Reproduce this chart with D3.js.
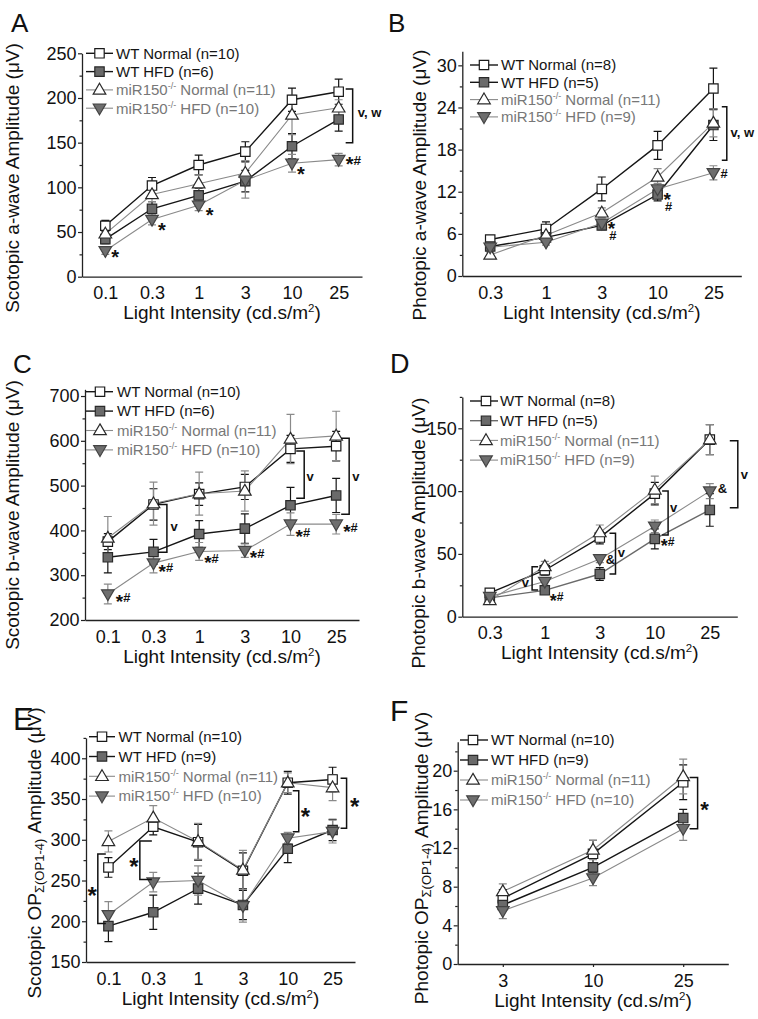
<!DOCTYPE html>
<html><head><meta charset="utf-8">
<script src="https://cdn.jsdelivr.net/npm/d3@7"></script>
<style>
body{margin:0;background:#fff}
svg{display:block}
text{font-family:Arial,"Liberation Sans",sans-serif}
</style>
</head><body>
<svg id="c" width="758" height="1019"></svg>
<script>
// ---------------- DATA ----------------
const catsA = ["0.1","0.3","1","3","10","25"];
const catsB = ["0.3","1","3","10","25"];
const catsC = ["0.1","0.3","1","3","10","25"];
const catsD = ["0.3","1","3","10","25"];
const catsE = ["0.1","0.3","1","3","10","25"];
const catsF = ["3","10","25"];

const ticksA = [0,50,100,150,200,250],  minorA = [25,75,125,175,225];
const ticksB = [0,6,12,18,24,30],       minorB = [3,9,15,21,27];
const ticksC = [200,300,400,500,600,700], minorC = [250,350,450,550,650];
const ticksD = [0,50,100,150],          minorD = [25,75,125,175];
const ticksE = [150,200,250,300,350,400], minorE = [175,225,275,325,375,425];
const ticksF = [0,4,8,12,16,20],        minorF = [2,6,10,14,18,22];

// Panel A: scotopic a-wave
const aWtN = [57,102,125,140,198,207], aWtNErr = [6,9,11,11,13,14];
const aWtH = [42,76,91,107,146,176],   aWtHErr = [5,8,8,12,14,13];
const aMiN = [48,92,104,116,181,189],  aMiNErr = [5,8,10,14,22,9];
const aMiH = [29,64,80,108,127,131],   aMiHErr = [4,6,6,20,10,7];
// Panel B: photopic a-wave
const bWtN = [5.2,6.7,12.4,18.6,26.7], bWtNErr = [0.4,1.0,1.7,2.0,2.9];
const bWtH = [4.2,5.5,7.2,11.6,21.5],  bWtHErr = [0.5,0.6,0.6,0.9,2.2];
const bMiN = [3.0,5.8,9.0,14.1,21.8],  bMiNErr = [0.4,0.5,0.7,1.2,2.0];
const bMiH = [4.1,4.8,7.5,12.4,14.7],  bMiHErr = [0.4,0.4,0.6,0.8,1.0];
// Panel C: scotopic b-wave
const cWtN = [375,458,481,497,582,588], cWtNErr = [18,35,25,28,30,33];
const cWtH = [340,352,392,404,456,478], cWtHErr = [35,28,30,33,40,38];
const cMiN = [383,460,482,488,604,611], cMiNErr = [48,48,48,45,55,55];
const cMiH = [258,327,353,355,414,414], cMiHErr = [22,22,20,15,25,22];
// Panel D: photopic b-wave
const dWtN = [19,37,63,98,141],  dWtNErr = [2,4,5,9,12];
const dWtH = [15,21,34,62,85],   dWtHErr = [2,3,5,8,13];
const dMiN = [13,40,67,101,141], dMiNErr = [2,4,6,11,12];
const dMiH = [16,28,46,72,100],  dMiHErr = [2,3,3,5,6];
// Panel E: scotopic OP
const eWtN = [266,316,297,262,370,374], eWtNErr = [12,10,22,22,14,15];
const eWtH = [194,211,240,220,289,312], eWtHErr = [19,21,19,18,17,13];
const eMiN = [298,327,298,263,370,364], eMiNErr = [13,15,22,24,12,16];
const eMiH = [208,248,250,219,302,310], eMiHErr = [16,12,18,20,7,14];
// Panel F: photopic OP
const fWtN = [6.8,11.4,18.8], fWtNErr = [0.9,1.4,1.8];
const fWtH = [6.1,10.0,15.1], fWtHErr = [0.5,0.5,0.9];
const fMiN = [7.5,11.8,19.4], fMiNErr = [0.8,1.0,1.8];
const fMiH = [5.5,8.9,14.0],  fMiHErr = [0.8,0.8,1.2];

const nA = [10,6,11,10], nB = [8,5,11,9], nC = [10,6,11,10];
const nD = [8,5,11,9],   nE = [10,9,11,10], nF = [10,9,11,10];

// significance annotations (category, value in data units, label)
const marksA = [
  {cat:"0.1",val:26.5,text:"*",dx:6},{cat:"0.3",val:56.8,text:"*",dx:6},
  {cat:"1",val:73.9,text:"*",dx:7},{cat:"10",val:119.4,text:"*",dx:5},
  {cat:"25",val:130.6,text:"*#",dx:7}];
const bracketsA = [{cat:"25",v1:210,v2:150,dx:14,tick:-7,label:"v, w",ldx:19,lval:183}];
const marksB = [
  {cat:"3",val:7.4,text:"*",below:"#",dx:6},
  {cat:"10",val:11.5,text:"*",below:"#",dx:6},
  {cat:"25",val:14.6,text:"#",dx:7}];
const bracketsB = [{cat:"25",v1:24.1,v2:16.5,dx:13.4,tick:-5,label:"v, w",ldx:17,lval:20.3}];
const marksC = [
  {cat:"0.1",val:250,text:"*#",dx:8},{cat:"0.3",val:318,text:"*#",dx:5},
  {cat:"1",val:337,text:"*#",dx:5},{cat:"3",val:348,text:"*#",dx:5},
  {cat:"10",val:396,text:"*#",dx:5},{cat:"25",val:407,text:"*#",dx:7}];
const bracketsC = [
  {cat:"0.3",v1:458,v2:351,dx:13.4,tick:-9,label:"v",ldx:17,lval:407},
  {cat:"10",v1:577,v2:472,dx:13.7,tick:-8,label:"v",ldx:16,lval:519},
  {cat:"25",v1:606,v2:436,dx:13,tick:-8,label:"v",ldx:16,lval:519}];
const marksD = [
  {cat:"1",val:15.9,text:"*#",dx:5},{cat:"3",val:45.7,text:"&",dx:6},
  {cat:"10",val:59.7,text:"*#",dx:6},{cat:"25",val:102.5,text:"&",dx:8}];
const bracketsD = [
  {cat:"1",v1:39.8,v2:21.3,dx:-12.7,tick:6,label:"v",ldx:-23,lval:26.6},
  {cat:"3",v1:66.4,v2:34,dx:15.7,tick:-6,label:"v",ldx:18,lval:50.5},
  {cat:"10",v1:100.1,v2:65,dx:13.3,tick:-6,label:"v",ldx:15.3,lval:86.3},
  {cat:"25",v1:140.1,v2:86.8,dx:28,tick:-8,label:"v",ldx:31,lval:113}];
const marksE = [
  {cat:"0.1",val:238,text:"*",dx:-21},{cat:"0.3",val:273,text:"*",dx:-24},
  {cat:"10",val:334.5,text:"*",dx:13},{cat:"25",val:346.7,text:"*",dx:17.5}];
const bracketsE = [
  {cat:"0.1",v1:282.4,v2:197.2,dx:-10.6,tick:8},
  {cat:"0.3",v1:298.4,v2:251.3,dx:-13.4,tick:12},
  {cat:"10",v1:360.2,v2:309.8,dx:11,tick:-6},
  {cat:"25",v1:375.4,v2:314,dx:14,tick:-6}];
const marksF = [{cat:"25",val:16.45,text:"*",dx:17}];
const bracketsF = [{cat:"25",v1:19.3,v2:14.0,dx:14.4,tick:-8}];

// ---------------- LAYOUT / STYLE ----------------
const panels = [
 {id:"A",cats:catsA,vals:[aWtN,aWtH,aMiN,aMiH],errs:[aWtNErr,aWtHErr,aMiNErr,aMiHErr],
  dom:[0,250],ticks:ticksA,minor:minorA,n:nA,marks:marksA,brackets:bracketsA,
  ytitle:[{t:"Scotopic a-wave Amplitude (μV)"}],
  L:{x0:82,x1:362,yb:276.7,yt:53.3,letter:[11,32,26],yt1:[18.5,178],
     leg:{ls:86,le:113,mx:99.5,tx:116,y0:53.3,dy:18.3},star:20}},
 {id:"B",cats:catsB,vals:[bWtN,bWtH,bMiN,bMiH],errs:[bWtNErr,bWtHErr,bMiNErr,bMiHErr],
  dom:[0,32],ticks:ticksB,minor:minorB,n:nB,marks:marksB,brackets:bracketsB,
  ytitle:[{t:"Photopic a-wave Amplitude (μV)"}],
  L:{x0:462.3,x1:741.3,yb:276,yt:51.3,letter:[388,32,26],yt1:[426,185],
     leg:{ls:470,le:498,mx:484,tx:501,y0:65,dy:17.3},star:19}},
 {id:"C",cats:catsC,vals:[cWtN,cWtH,cMiN,cMiH],errs:[cWtNErr,cWtHErr,cMiNErr,cMiHErr],
  dom:[200,715],ticks:ticksC,minor:minorC,n:nC,marks:marksC,brackets:bracketsC,
  ytitle:[{t:"Scotopic b-wave Amplitude (μV)"}],
  L:{x0:85,x1:359,yb:620,yt:389.3,letter:[13,373,26],yt1:[18.5,515],
     leg:{ls:86,le:113,mx:100,tx:117,y0:391.7,dy:19.4},star:19}},
 {id:"D",cats:catsD,vals:[dWtN,dWtH,dMiN,dMiH],errs:[dWtNErr,dWtHErr,dMiNErr,dMiHErr],
  dom:[0,175],ticks:ticksD,minor:minorD,n:nD,marks:marksD,brackets:bracketsD,
  ytitle:[{t:"Photopic b-wave Amplitude (μV)"}],wtHfdGray:true,
  L:{x0:462.3,x1:737.3,yb:616.7,yt:396.9,letter:[390,373,27],yt1:[425,533],
     leg:{ls:470,le:498,mx:486,tx:500,y0:401,dy:19.7},star:18}},
 {id:"E",cats:catsE,vals:[eWtN,eWtH,eMiN,eMiH],errs:[eWtNErr,eWtHErr,eMiNErr,eMiHErr],
  dom:[150,425],ticks:ticksE,minor:minorE,n:nE,marks:marksE,brackets:bracketsE,
  ytitle:[{t:"Scotopic OP"},{t:"Σ(OP1-4)",sub:true},{t:" Amplitude (μV)"}],
  L:{x0:86,x1:355,yb:962,yt:737.9,letter:[13,730,31],yt1:[41,853],
     leg:{ls:89,le:115,mx:102,tx:118.5,y0:736.7,dy:19.8},star:24}},
 {id:"F",cats:catsF,vals:[fWtN,fWtH,fMiN,fMiH],errs:[fWtNErr,fWtHErr,fMiNErr,fMiHErr],
  dom:[0,23],ticks:ticksF,minor:minorF,n:nF,marks:marksF,brackets:bracketsF,
  ytitle:[{t:"Photopic OP"},{t:"Σ(OP1-4)",sub:true},{t:" Amplitude (μV)"}],xTicks:3,
  L:{x0:457.7,x1:728.3,yb:964,yt:741.7,letter:[390,721,30],yt1:[428,858],
     leg:{ls:460,le:488,mx:473,tx:491,y0:740,dy:20},star:22}}
];

const BLACK = "#151515", GRAY = "#8a8a8a";
const styles = [
  {shape:"sq",  fill:"#ffffff", stroke:"#1a1a1a", line:BLACK, err:BLACK, lw:1.4, txt:BLACK},
  {shape:"sq",  fill:"#6a6a6a", stroke:"#2a2a2a", line:BLACK, err:BLACK, lw:1.4, txt:BLACK},
  {shape:"tri", fill:"#ffffff", stroke:"#2a2a2a", line:GRAY,  err:GRAY,  lw:1.1, txt:"#777"},
  {shape:"itri",fill:"#6e6e6e", stroke:"#444",    line:GRAY,  err:GRAY,  lw:1.1, txt:"#777"}
];
const legNames = [["WT Normal"],["WT HFD"],["miR150","-/-"," Normal"],["miR150","-/-"," HFD"]];

function shapePath(s){
  if(s==="sq") return "M-4.7,-4.7H4.7V4.7H-4.7Z";
  if(s==="tri") return "M0,-6.6L6.3,4.2L-6.3,4.2Z";
  return "M0,6.6L6.3,-4.2L-6.3,-4.2Z";
}

const svg = d3.select("#c");

function glyphInfo(ch, fs){
  if(ch==="*") return {size:fs, k:0.56};
  if(ch==="#") return {size:fs*0.68, k:0.36};
  return {size:fs*0.72, k:0.36};
}
function drawMark(g, x0, yc, m, fs){
  const t = g.append("text").attr("x", x0).attr("y", yc).attr("fill", "#111").attr("font-weight", "bold");
  for(const ch of m.text){
    const gi = glyphInfo(ch, fs);
    t.append("tspan").attr("y", yc + gi.k*gi.size).attr("font-size", gi.size).text(ch);
  }
  if(m.below){
    const gi = glyphInfo(m.below, fs);
    t.append("tspan").attr("x", x0 + 1.5).attr("y", yc + 11 + gi.k*gi.size)
      .attr("font-size", gi.size).text(m.below);
  }
}

panels.forEach(p => {
  const L = p.L;
  const g = svg.append("g");
  const x = d3.scalePoint().domain(p.cats).range([L.x0, L.x1]).padding(0.5);
  const y = d3.scaleLinear().domain(p.dom).range([L.yb, L.yt]);

  // axes
  g.append("g").attr("transform", `translate(${L.x0},0)`)
    .call(d3.axisLeft(y).tickValues(p.ticks).tickSize(4).tickSizeOuter(0).tickPadding(1.5).tickFormat(d3.format("d")));
  g.append("g").attr("transform", `translate(${L.x0},0)`)
    .call(d3.axisLeft(y).tickValues(p.minor).tickSize(2.5).tickFormat(""))
    .select(".domain").remove();
  const xts = p.xTicks || 0;
  g.append("g").attr("transform", `translate(0,${L.yb})`)
    .call(d3.axisBottom(x).tickSize(xts).tickSizeOuter(0).tickPadding(10 - xts));
  g.selectAll(".domain").attr("stroke", "#222").attr("stroke-width", 1.3);
  g.selectAll(".tick line").attr("stroke", "#222").attr("stroke-width", 1.2);
  g.selectAll(".tick text").attr("font-size", 18).attr("font-family", "Arial, 'Liberation Sans', sans-serif").attr("fill", "#111");

  // x title
  const xt = g.append("text").attr("x", (L.x0 + L.x1)/2).attr("y", L.yb + 42.5)
    .attr("text-anchor", "middle").attr("font-size", 19).attr("fill", "#111");
  xt.append("tspan").text("Light Intensity (cd.s/m");
  xt.append("tspan").attr("font-size", 11.5).attr("dy", -7).text("2");
  xt.append("tspan").attr("dy", 7).text(")");

  // y title
  const yt = g.append("text").attr("transform", `translate(${L.yt1[0]},${L.yt1[1]}) rotate(-90)`)
    .attr("text-anchor", "middle").attr("font-size", 19).attr("fill", "#111");
  let shifted = false;
  p.ytitle.forEach(part => {
    const ts = yt.append("tspan").text(part.t);
    if(part.sub){ ts.attr("font-size", 13).attr("dy", 3); shifted = true; }
    else if(shifted){ ts.attr("dy", -3); shifted = false; }
  });

  // panel letter
  g.append("text").attr("x", L.letter[0]).attr("y", L.letter[1])
    .attr("font-size", L.letter[2]).attr("fill", "#111").text(p.id);

  const st = styles.map((s,i) => (p.wtHfdGray && i===1) ? Object.assign({}, s, {line:"#6a6a6a"}) : s);

  // lines
  p.vals.forEach((vals, i) => {
    const s = st[i];
    g.append("path").datum(vals.map((v,j)=>[p.cats[j], v]))
      .attr("fill","none").attr("stroke", s.line).attr("stroke-width", s.lw)
      .attr("d", d3.line().x(d=>x(d[0])).y(d=>y(d[1])));
  });
  // error bars
  p.vals.forEach((vals, i) => {
    const s = st[i];
    const eg = g.append("g").attr("stroke", s.err).attr("stroke-width", 1.2).attr("fill","none");
    vals.forEach((v, j) => {
      const e = p.errs[i][j], cx = x(p.cats[j]);
      eg.append("path").attr("d",
        `M${cx},${y(v-e)}V${y(v+e)}M${cx-4},${y(v+e)}H${cx+4}M${cx-4},${y(v-e)}H${cx+4}`);
    });
  });
  // markers
  p.vals.forEach((vals, i) => {
    const s = st[i];
    g.append("g").selectAll("path").data(vals).join("path")
      .attr("transform", (v,j) => `translate(${x(p.cats[j])},${y(v)})`)
      .attr("d", shapePath(s.shape)).attr("fill", s.fill).attr("stroke", s.stroke).attr("stroke-width", 1.2);
  });

  // legend
  const lg = L.leg;
  p.n.forEach((n, i) => {
    const s = st[i], ry = lg.y0 + i*lg.dy;
    g.append("line").attr("x1", lg.ls).attr("x2", lg.le).attr("y1", ry).attr("y2", ry)
      .attr("stroke", s.line).attr("stroke-width", s.lw);
    g.append("path").attr("transform", `translate(${lg.mx},${ry})`).attr("d", shapePath(s.shape))
      .attr("fill", s.fill).attr("stroke", s.stroke).attr("stroke-width", 1.2);
    const t = g.append("text").attr("x", lg.tx).attr("y", ry + 5.3).attr("font-size", 15).attr("fill", s.txt);
    const nm = legNames[i];
    t.append("tspan").text(nm[0]);
    if(nm.length > 1){
      t.append("tspan").attr("font-size", 9).attr("dy", -6).text(nm[1]);
      t.append("tspan").attr("dy", 6).text(nm[2] + ` (n=${n})`);
    } else {
      t.append("tspan").text(` (n=${n})`);
    }
  });

  // brackets
  p.brackets.forEach(b => {
    const bx = x(b.cat) + b.dx, y1 = y(b.v1), y2 = y(b.v2);
    g.append("path").attr("d", `M${bx + b.tick},${y1}H${bx}V${y2}H${bx + b.tick}`)
      .attr("fill","none").attr("stroke", "#111").attr("stroke-width", 1.5);
    if(b.label){
      g.append("text").attr("x", x(b.cat) + b.ldx).attr("y", y(b.lval) + 4)
        .attr("font-size", 13).attr("font-weight", "bold").attr("fill", "#111").text(b.label);
    }
  });
  // marks
  p.marks.forEach(m => drawMark(g, x(m.cat) + m.dx, y(m.val), m, L.star));
});
</script>
</body></html>
